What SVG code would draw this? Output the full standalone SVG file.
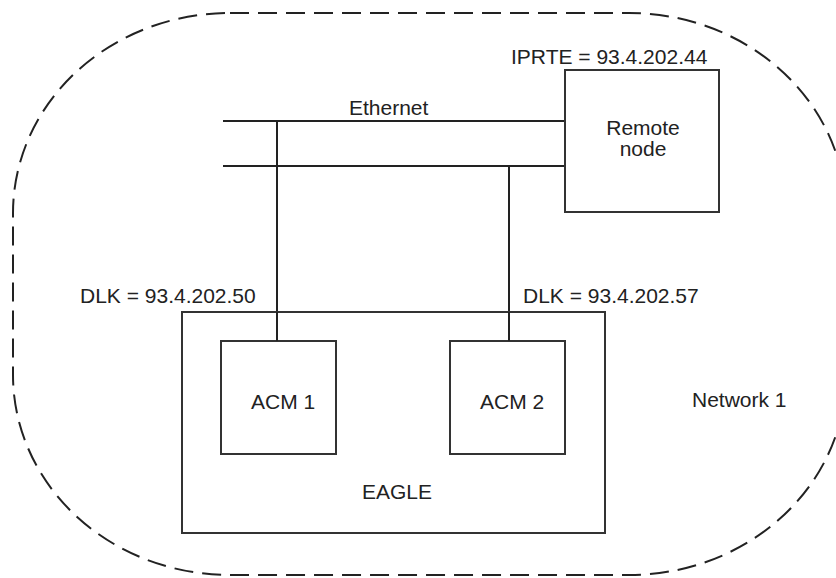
<svg xmlns="http://www.w3.org/2000/svg" width="836" height="578" viewBox="0 0 836 578">
<style>
.ln{stroke:#222;stroke-width:2;fill:none}
.bx{stroke:#333;stroke-width:2;fill:#fff}
.dash{stroke:#222;stroke-width:2;fill:none;stroke-dasharray:19 9}
text{font-family:"Liberation Sans",Arial,sans-serif;font-size:21px;fill:#222}
</style>
<rect width="836" height="578" fill="#fff"/>
<g id="network1">
<path class="dash" d="M 230 13 H 629 A 217 200 0 0 1 846 213 V 375 A 217 200 0 0 1 629 575 H 230 A 217 200 0 0 1 13 375 V 213 A 217 200 0 0 1 230 13 Z"/>
<text x="692" y="407">Network 1</text>
</g>
<g id="connectors">
<line class="ln" x1="223" y1="121" x2="565" y2="121"/>
<line class="ln" x1="223" y1="166" x2="565" y2="166"/>
<line class="ln" x1="277" y1="121" x2="277" y2="341"/>
<line class="ln" x1="509" y1="166" x2="509" y2="341"/>
<text x="349" y="115">Ethernet</text>
<text x="80" y="303">DLK = 93.4.202.50</text>
<text x="523" y="303">DLK = 93.4.202.57</text>
</g>
<g id="remote">
<rect class="bx" x="565" y="70" width="154" height="142"/>
<text x="643" y="135" text-anchor="middle">Remote</text>
<text x="643" y="156" text-anchor="middle">node</text>
<text x="511" y="64">IPRTE = 93.4.202.44</text>
</g>
<g id="eagle">
<rect class="bx" x="182" y="312" width="423" height="221"/>
<text x="362" y="499">EAGLE</text>
</g>
<g id="acm1">
<rect class="bx" x="221" y="341" width="115" height="113"/>
<text x="251" y="409">ACM 1</text>
</g>
<g id="acm2">
<rect class="bx" x="450" y="341" width="115" height="113"/>
<text x="480" y="409">ACM 2</text>
</g>
<line class="ln" x1="277" y1="312" x2="277" y2="341"/>
<line class="ln" x1="509" y1="312" x2="509" y2="341"/>
</svg>
